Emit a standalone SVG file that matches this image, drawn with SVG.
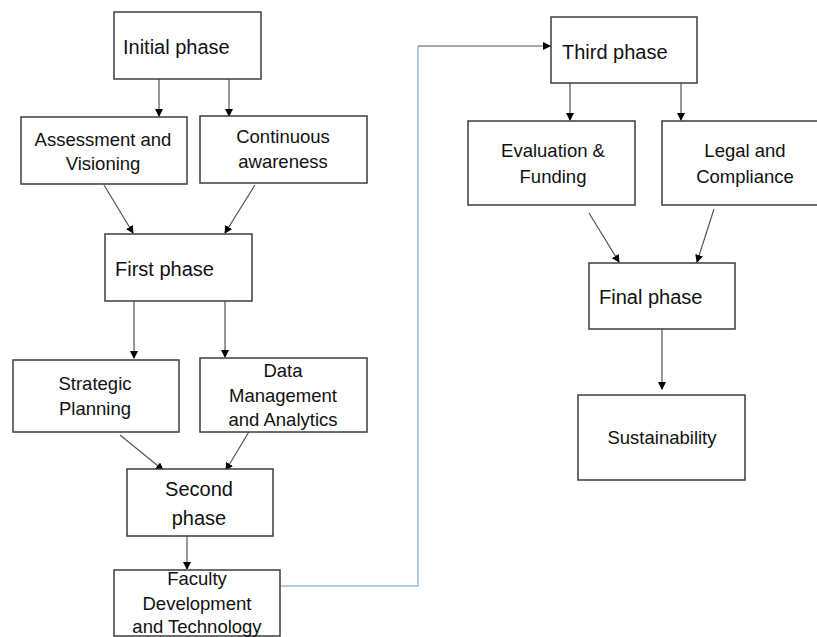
<svg xmlns="http://www.w3.org/2000/svg" width="817" height="637" viewBox="0 0 817 637">
<defs>
<style>
.box{fill:#fff;stroke:#3c3c3c;stroke-width:1.5}
.t{font-family:"Liberation Sans",Arial,sans-serif;font-size:18.5px;fill:#111;text-anchor:middle}
.p{font-family:"Liberation Sans",Arial,sans-serif;font-size:20px;fill:#111}
.c{fill:none;stroke:#555;stroke-width:1.2}
.b{fill:none;stroke:#9dbbe8;stroke-width:1.5}
</style>
<marker id="ah" markerWidth="8" markerHeight="8" refX="7" refY="4" orient="auto" markerUnits="userSpaceOnUse">
<path d="M0,0 L8,4 L0,8 Z" fill="#000"/>
</marker>
</defs>
<rect width="817" height="637" fill="#fff"/>
<g id="connectors">
<line class="c" x1="159" y1="79" x2="159" y2="116" marker-end="url(#ah)"/>
<line class="c" x1="229" y1="79" x2="229" y2="116" marker-end="url(#ah)"/>
<line class="c" x1="104" y1="185" x2="133" y2="233" marker-end="url(#ah)"/>
<line class="c" x1="255" y1="185" x2="225" y2="233" marker-end="url(#ah)"/>
<line class="c" x1="134" y1="301" x2="134" y2="358" marker-end="url(#ah)"/>
<line class="c" x1="225" y1="301" x2="225" y2="357" marker-end="url(#ah)"/>
<line class="c" x1="120" y1="435" x2="163" y2="470" marker-end="url(#ah)"/>
<line class="c" x1="250" y1="430" x2="226" y2="470" marker-end="url(#ah)"/>
<line class="c" x1="187" y1="536" x2="187" y2="569" marker-end="url(#ah)"/>
<polyline class="b" points="280,586 418,586 418,46"/>
<line class="c" x1="418" y1="46" x2="550" y2="46" marker-end="url(#ah)"/>
<line class="c" x1="570" y1="83" x2="570" y2="120" marker-end="url(#ah)"/>
<line class="c" x1="681" y1="83" x2="681" y2="120" marker-end="url(#ah)"/>
<line class="c" x1="589" y1="213" x2="619" y2="262" marker-end="url(#ah)"/>
<line class="c" x1="714" y1="209" x2="697" y2="262" marker-end="url(#ah)"/>
<line class="c" x1="662" y1="329" x2="662" y2="389" marker-end="url(#ah)"/>
</g>
<g id="initial-phase">
<rect class="box" x="114" y="12" width="147" height="67"/>
<text class="p" x="123" y="54">Initial phase</text>
</g>
<g id="assessment">
<rect class="box" x="21" y="117" width="166" height="67"/>
<text class="t" x="103" y="146">Assessment and</text>
<text class="t" x="103" y="170">Visioning</text>
</g>
<g id="continuous">
<rect class="box" x="200" y="116" width="167" height="67"/>
<text class="t" x="283" y="143">Continuous</text>
<text class="t" x="283" y="168">awareness</text>
</g>
<g id="first-phase">
<rect class="box" x="105" y="234" width="147" height="67"/>
<text class="p" x="115" y="276">First phase</text>
</g>
<g id="strategic">
<rect class="box" x="13" y="360" width="166" height="72"/>
<text class="t" x="95" y="390">Strategic</text>
<text class="t" x="95" y="415">Planning</text>
</g>
<g id="data">
<rect class="box" x="200" y="358" width="167" height="74"/>
<text class="t" x="283" y="377">Data</text>
<text class="t" x="283" y="402">Management</text>
<text class="t" x="283" y="426">and Analytics</text>
</g>
<g id="second-phase">
<rect class="box" x="127" y="469" width="146" height="67"/>
<text class="p" x="199" y="496" text-anchor="middle">Second</text>
<text class="p" x="199" y="525" text-anchor="middle">phase</text>
</g>
<g id="faculty">
<rect class="box" x="114" y="570" width="166" height="66"/>
<text class="t" x="197" y="585">Faculty</text>
<text class="t" x="197" y="610">Development</text>
<text class="t" x="197" y="633">and Technology</text>
</g>
<g id="third-phase">
<rect class="box" x="551" y="17" width="146" height="66"/>
<text class="p" x="562" y="59">Third phase</text>
</g>
<g id="evaluation">
<rect class="box" x="468" y="121" width="167" height="84"/>
<text class="t" x="553" y="157">Evaluation &amp;</text>
<text class="t" x="553" y="183">Funding</text>
</g>
<g id="legal">
<rect class="box" x="662" y="121" width="156" height="84"/>
<text class="t" x="745" y="157">Legal and</text>
<text class="t" x="745" y="183">Compliance</text>
</g>
<g id="final-phase">
<rect class="box" x="589" y="263" width="146" height="66"/>
<text class="p" x="599" y="304">Final phase</text>
</g>
<g id="sustainability">
<rect class="box" x="578" y="395" width="167" height="85"/>
<text class="t" x="662" y="444">Sustainability</text>
</g>
</svg>
